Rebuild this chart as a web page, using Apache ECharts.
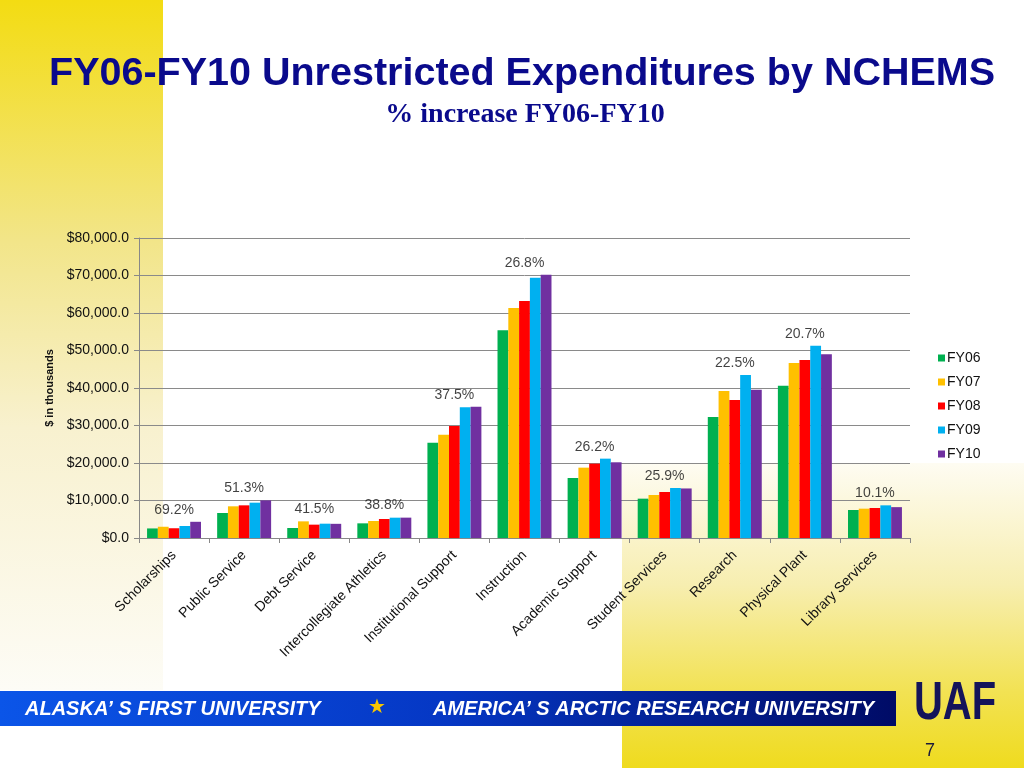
<!DOCTYPE html>
<html>
<head>
<meta charset="utf-8">
<title>FY06-FY10 Unrestricted Expenditures by NCHEMS</title>
<script src="https://cdn.jsdelivr.net/npm/echarts@6/dist/echarts.min.js"></script>
<style>
  html, body { margin: 0; padding: 0; background: #fff; }
  #chart { width: 1024px; height: 768px; }
</style>
</head>
<body>
<div id="chart"></div>
<script>
// categories, left to right
const categories = [
  "Scholarships",
  "Public Service",
  "Debt Service",
  "Intercollegiate Athletics",
  "Institutional Support",
  "Instruction",
  "Academic Support",
  "Student Services",
  "Research",
  "Physical Plant",
  "Library Services",
];

// $ in thousands
const fy06 = [2550, 6670, 2670, 3910, 25430, 55380, 16000, 10490, 32270, 40620, 7470];
const fy07 = [3000, 8450, 4440, 4530, 27560, 61330, 18760, 11470, 39200, 46670, 7820];
const fy08 = [2600, 8710, 3560, 5060, 29870, 63200, 19820, 12270, 36800, 47470, 8000];
const fy09 = [3200, 9420, 3820, 5420, 34840, 69420, 21160, 13330, 43470, 51290, 8710];
const fy10 = [4320, 10040, 3780, 5430, 34970, 70220, 20190, 13210, 39530, 49030, 8230];

// % increase FY06-FY10 shown above each group
const pctIncrease = ["69.2%", "51.3%", "41.5%", "38.8%", "37.5%", "26.8%", "26.2%", "25.9%", "22.5%", "20.7%", "10.1%"];

const yTicks = [0, 10000, 20000, 30000, 40000, 50000, 60000, 70000, 80000];

const seriesNames = ["FY06", "FY07", "FY08", "FY09", "FY10"];
const seriesData = [fy06, fy07, fy08, fy09, fy10];
const colors = ["#00B050", "#FFC000", "#FF0000", "#00B0F0", "#7030A0"];

// top of each group, used to hang the % label
const groupTop = categories.map((c, i) => Math.max(...seriesData.map((s) => s[i])));

const chart = echarts.init(document.getElementById("chart"), null, { renderer: "canvas" });

function money(v) {
  return "$" + v.toLocaleString("en-US") + ".0";
}

const FONT = "Liberation Sans, Arial, sans-serif";

const option = {
  animation: false,
  color: colors,
  textStyle: { fontFamily: FONT },
  graphic: [
    // left yellow strip
    {
      type: "rect",
      z: -10,
      shape: { x: 0, y: 0, width: 163, height: 690 },
      style: {
        fill: new echarts.graphic.LinearGradient(0, 0, 0, 1, [
          { offset: 0, color: "#f3dc12" },
          { offset: 0.35, color: "#f2e589" },
          { offset: 0.62, color: "#f8f1cf" },
          { offset: 1, color: "#fdfcf6" },
        ]),
      },
    },
    // bottom right yellow block
    {
      type: "rect",
      z: -10,
      shape: { x: 622, y: 463, width: 402, height: 305 },
      style: {
        fill: new echarts.graphic.LinearGradient(0, 0, 0, 1, [
          { offset: 0, color: "#fefcf2" },
          { offset: 0.4, color: "#f7eeb0" },
          { offset: 0.75, color: "#f2e253" },
          { offset: 1, color: "#efdb1e" },
        ]),
      },
    },
    // blue banner
    {
      type: "rect",
      z: 5,
      shape: { x: 0, y: 691, width: 896, height: 35 },
      style: {
        fill: new echarts.graphic.LinearGradient(0, 0, 1, 0, [
          { offset: 0, color: "#0b55e8" },
          { offset: 0.5, color: "#0537c4" },
          { offset: 1, color: "#000b66" },
        ]),
      },
    },
    {
      type: "text",
      z: 6,
      x: 25,
      y: 709,
      style: {
        text: "ALASKA\u2019 S FIRST UNIVERSITY",
        fill: "#fff",
        font: "italic bold 20px " + FONT,
        verticalAlign: "middle",
      },
    },
    {
      type: "text",
      z: 6,
      x: 377,
      y: 708,
      style: {
        text: "\u2605",
        fill: "#f7c600",
        font: "20px DejaVu Sans",
        align: "center",
        verticalAlign: "middle",
      },
    },
    {
      type: "text",
      z: 6,
      x: 433,
      y: 709,
      style: {
        text: "AMERICA\u2019 S ARCTIC RESEARCH UNIVERSITY",
        fill: "#fff",
        font: "italic bold 20px " + FONT,
        verticalAlign: "middle",
      },
    },
    // UAF logo letters
    {
      type: "text",
      z: 6,
      x: 955,
      y: 704,
      scaleX: 0.74,
      style: {
        text: "UAF",
        fill: "#14145a",
        font: "bold 54px " + FONT,
        align: "center",
        verticalAlign: "middle",
      },
    },
    {
      type: "text",
      z: 6,
      x: 930,
      y: 751,
      style: {
        text: "7",
        fill: "#1a1a3a",
        font: "18px " + FONT,
        align: "center",
        verticalAlign: "middle",
      },
    },
    // titles
    {
      type: "text",
      z: 6,
      x: 49,
      y: 74,
      style: {
        text: "FY06-FY10 Unrestricted Expenditures by NCHEMS",
        fill: "#0a0a8c",
        font: "bold 39.5px " + FONT,
        verticalAlign: "middle",
      },
    },
    {
      type: "text",
      z: 6,
      x: 525,
      y: 115,
      style: {
        text: "% increase FY06-FY10",
        fill: "#0a0a8c",
        font: "bold 28px Liberation Serif, Times New Roman, serif",
        align: "center",
        verticalAlign: "middle",
      },
    },
  ],
  legend: {
    data: seriesNames,
    orient: "vertical",
    left: 933,
    top: 346,
    itemWidth: 7,
    itemHeight: 7,
    itemGap: 10,
    icon: "rect",
    textStyle: { fontSize: 14, color: "#111", fontFamily: FONT, padding: [0, 0, 0, -3] },
  },
  grid: { left: 139, right: 114, top: 238, bottom: 230 },
  xAxis: {
    type: "category",
    data: categories,
    axisLine: { lineStyle: { color: "#888" } },
    axisTick: { show: true, length: 5, lineStyle: { color: "#888" } },
    axisLabel: {
      rotate: 45,
      interval: 0,
      fontSize: 14,
      color: "#111",
      margin: 15,
    },
  },
  yAxis: {
    type: "value",
    min: yTicks[0],
    max: yTicks[yTicks.length - 1],
    interval: yTicks[1] - yTicks[0],
    name: "$ in thousands",
    nameLocation: "middle",
    nameRotate: 90,
    nameGap: 76,
    nameTextStyle: { fontSize: 11, fontWeight: "bold", color: "#111" },
    axisLine: { show: true, lineStyle: { color: "#888" } },
    axisTick: { show: true, length: 5, lineStyle: { color: "#888" } },
    splitLine: { lineStyle: { color: "#8a8a8a" } },
    axisLabel: { formatter: money, fontSize: 14, color: "#111", margin: 10 },
  },
  series: seriesNames
    .map((name, k) => ({
      name,
      type: "bar",
      data: seriesData[k],
      barGap: 0,
      barCategoryGap: "23%",
      itemStyle: { color: colors[k] },
    }))
    .concat([
      {
        name: "pct",
        type: "scatter",
        data: groupTop,
        symbolSize: 0,
        silent: true,
        z: 5,
        label: {
          show: true,
          position: "top",
          distance: 5,
          fontSize: 14,
          color: "#111",
          formatter: (p) => pctIncrease[p.dataIndex],
        },
      },
    ]),
};

chart.setOption(option);
</script>
</body>
</html>
